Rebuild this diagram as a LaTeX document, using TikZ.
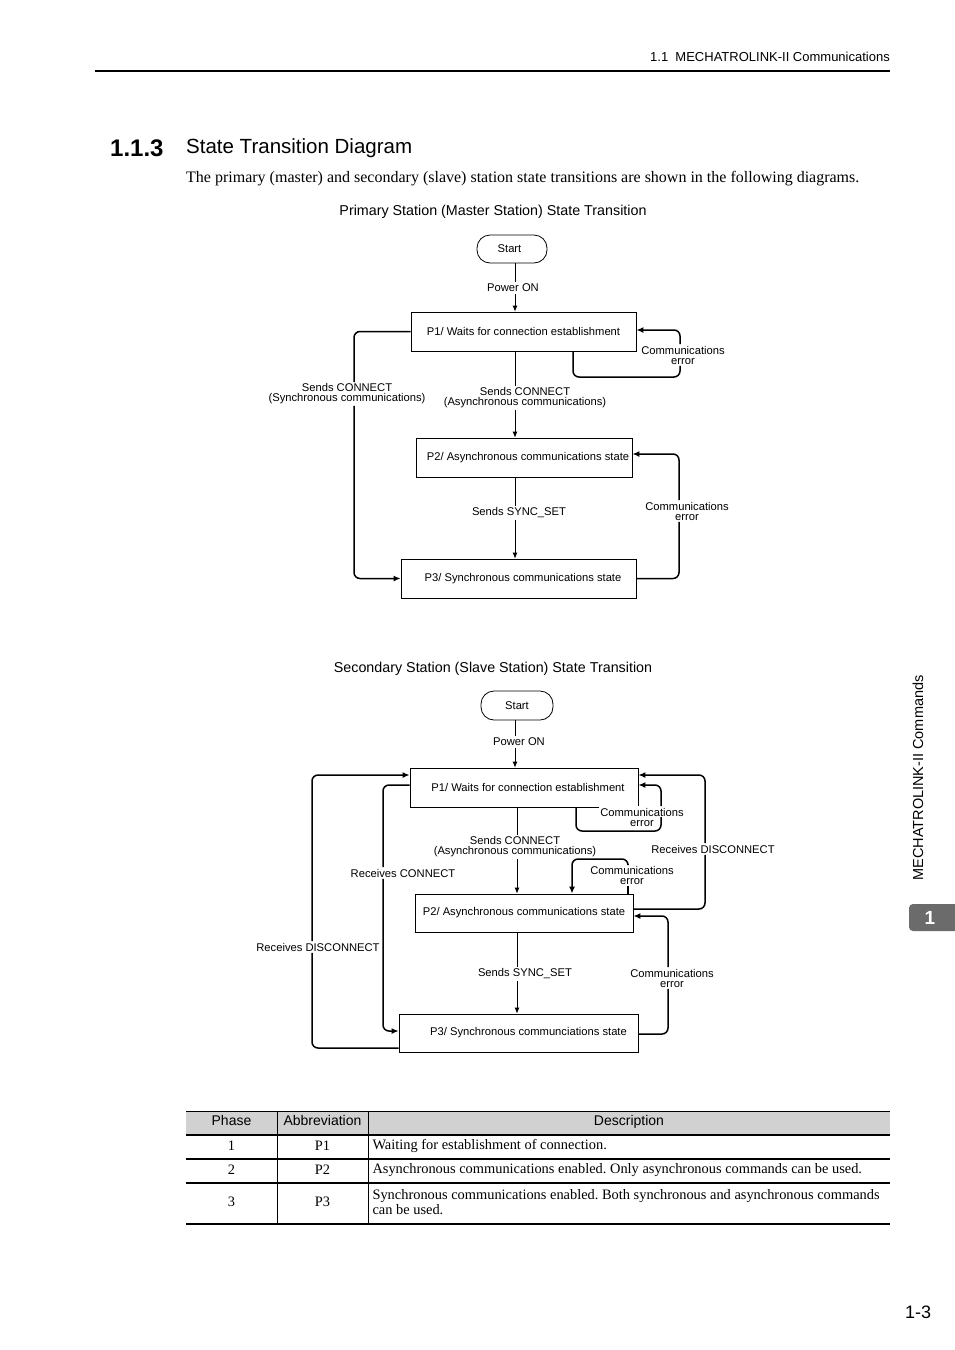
\documentclass[tikz,border=0pt]{standalone}
\usepackage{fontspec}
\setmainfont{Liberation Serif}
\setsansfont{Liberation Sans}
\usetikzlibrary{arrows.meta}
\definecolor{tabgray}{gray}{0.82}
\definecolor{tabdark}{gray}{0.42}
\frenchspacing
\tikzset{
  statebox/.style={draw, line width=0.8pt, inner sep=0pt, font=\sffamily\fontsize{11.2}{12}\selectfont},
  startbox/.style={draw, line width=0.8pt, rounded corners=13pt, inner sep=0pt, font=\sffamily\fontsize{11.2}{12}\selectfont},
  lbl/.style={fill=white, inner sep=1.5pt, align=center, font=\sffamily\fontsize{11.2}{10}\selectfont},
  thinline/.style={line width=0.8pt},
  thinarr/.style={line width=0.8pt, -{Latex[length=6pt,width=5pt]}},
  looparr/.style={line width=1.5pt, rounded corners=6pt, -{Latex[length=7pt,width=6pt]}},
  loopline/.style={line width=1.5pt, rounded corners=6pt},
  rowline/.style={line width=1.1pt},
  th/.style={font=\sffamily\fontsize{14}{16}\selectfont, text height=10pt, text depth=3pt},
  td/.style={font=\fontsize{14.4}{15.5}\selectfont, align=left},
}
\begin{document}
\begin{tikzpicture}[x=1pt, y=-1pt]
      \useasboundingbox (0,0) rectangle (954,1350);
      % Draw the page header
      \node[anchor=east, inner sep=0pt, font=\sffamily\fontsize{13}{14}\selectfont] (hdr) at (890,57) {1.1\ \ MECHATROLINK-II Communications};
      \draw[line width=2.5pt] (95,71) -- (890,71);
      \node[anchor=west, inner sep=0pt, font=\sffamily\bfseries\fontsize{24}{26}\selectfont] (secno) at (110,148) {1.1.3};
      \node[anchor=west, inner sep=0pt, font=\sffamily\fontsize{20.5}{22}\selectfont] (sectitle) at (186,148) {State Transition Diagram};
      \node[anchor=west, inner sep=0pt, font=\fontsize{16}{18}\selectfont] (intro) at (186,179) {The primary (master) and secondary (slave) station state transitions are shown in the following diagrams.};
      % Draw the primary station diagram
      \node[font=\sffamily\fontsize{14.3}{16}\selectfont] (cap1) at (493,212) {Primary Station (Master Station) State Transition};
      \node[startbox, minimum width=70pt, minimum height=28pt] (s1) at (512,249) {\hspace*{-5pt}Start};
      \node[statebox, minimum width=225pt, minimum height=39pt] (p1) at (523.5,331.5) {P1/ Waits for connection establishment};
      \node[statebox, minimum width=216pt, minimum height=39pt] (p2) at (524,457.5) {\hspace*{8pt}P2/ Asynchronous communications state};
      \node[statebox, minimum width=235pt, minimum height=39pt] (p3) at (518.5,578.5) {\hspace*{9pt}P3/ Synchronous communications state};
      \node[lbl] (pon1) at (513,288) {Power ON};
      \node[lbl] (err11) at (683,355) {Communications\\error};
      \node[lbl] (con1) at (347,394) {Sends CONNECT\\(Synchronous communications)};
      \node[lbl] (acon1) at (525,398) {Sends CONNECT\\(Asynchronous communications)};
      \node[lbl] (sync1) at (519,513) {Sends SYNC\_SET};
      \node[lbl] (err12) at (687,511) {Communications\\error};
      \coordinate (a1) at ([xshift=3pt]s1.south);
      \coordinate (b1) at ([xshift=-8.5pt]p1.south);
      \coordinate (c1) at ([xshift=-9pt]p2.south);
      \coordinate (e1) at (680,377);
      \coordinate (l1) at (354,500);
      \coordinate (r1) at (679,500);
        \draw[thinline] (a1) -- (a1 |- pon1.north);
        \draw[thinarr] (a1 |- pon1.south) -- (a1 |- p1.north);
        \draw[loopline] ([xshift=49.5pt]p1.south) |- (e1) -- (e1 |- err11.south);
        \draw[looparr] (e1 |- err11.north) |- ([yshift=1.5pt]p1.east);
        \draw[loopline] (p1.west) -| (l1 |- con1.north);
        \draw[looparr] (l1 |- con1.south) |- (p3.west);
        \draw[thinline] (b1) -- (b1 |- acon1.north);
        \draw[thinarr] (b1 |- acon1.south) -- (b1 |- p2.north);
        \draw[thinline] (c1) -- (c1 |- sync1.north);
        \draw[thinarr] (c1 |- sync1.south) -- (c1 |- p3.north);
        \draw[loopline] (p3.east) -| (r1 |- err12.south);
        \draw[looparr] (r1 |- err12.north) |- ([yshift=3.5pt]p2.east);
      % Draw the secondary station diagram
      \node[font=\sffamily\fontsize{14.3}{16}\selectfont] (cap2) at (493,669) {Secondary Station (Slave Station) State Transition};
      \node[startbox, minimum width=72pt, minimum height=29pt] (s2) at (517,705.5) {Start};
      \node[statebox, minimum width=228pt, minimum height=39pt] (q1) at (524,787.5) {\hspace*{8pt}P1/ Waits for connection establishment};
      \node[statebox, minimum width=218pt, minimum height=38pt] (q2) at (524,913) {P2/ Asynchronous communications state};
      \node[statebox, minimum width=239pt, minimum height=38pt] (q3) at (518.5,1033) {\hspace*{20pt}P3/ Synchronous communciations state};
      \node[lbl] (pon2) at (519,742) {Power ON};
      \node[lbl] (err21) at (642,817) {Communications\\error};
      \node[lbl] (dis21) at (713,849) {Receives DISCONNECT};
      \node[lbl] (acon2) at (515,847) {Sends CONNECT\\(Asynchronous communications)};
      \node[lbl] (err22) at (632,875) {Communications\\error};
      \node[lbl] (rcon2) at (403,873) {Receives CONNECT};
      \node[lbl] (dis22) at (318,947) {Receives DISCONNECT};
      \node[lbl] (sync2) at (525,974) {Sends SYNC\_SET};
      \node[lbl] (err23) at (672,978) {Communications\\error};
      \coordinate (a2) at ([xshift=-2pt]s2.south);
      \coordinate (b2) at ([xshift=-7pt]q1.south);
      \coordinate (c2) at ([xshift=-7pt]q2.south);
      \coordinate (e2) at (661,831);
      \coordinate (e3) at (600,859);
      \coordinate (r2) at (705,840);
      \coordinate (r3) at (668,980);
      \coordinate (l2) at (383,900);
      \coordinate (l3) at (312,900);
        \draw[thinline] (a2) -- (a2 |- pon2.north);
        \draw[thinarr] (a2 |- pon2.south) -- (a2 |- q1.north);
        \draw[loopline] ([xshift=52pt]q1.south) |- (e2) -- (e2 |- err21.center);
        \draw[looparr] (e2 |- err21.north) |- ([yshift=2.5pt]q1.east);
        \draw[loopline] ([yshift=4pt]q2.east) -| (r2 |- dis21.south);
        \draw[looparr] (r2 |- dis21.north) |- ([yshift=12.5pt]q1.east);
        \draw[thinline] (b2) -- (b2 |- acon2.north);
        \draw[thinarr] (b2 |- acon2.south) -- (b2 |- q2.north);
        \draw[loopline] ([xshift=104pt]q2.north) -- ([xshift=104pt]q2.north |- err22.south);
        \draw[looparr] ([xshift=104pt]q2.north |- err22.north) |- (e3) -| ([xshift=48pt]q2.north);
        \draw[thinline] (c2) -- (c2 |- sync2.north);
        \draw[thinarr] (c2 |- sync2.south) -- (c2 |- q3.north);
        \draw[loopline] ([yshift=-1pt]q3.east) -| (r3 |- err23.south);
        \draw[looparr] (r3 |- err23.north) |- ([yshift=-3pt]q2.east);
        \draw[loopline] ([yshift=2.5pt]q1.west) -| (l2 |- rcon2.north);
        \draw[looparr] (l2 |- rcon2.south) |- ([yshift=2pt]q3.west);
        \draw[loopline] ([yshift=-15pt]q3.west) -| (l3 |- dis22.south);
        \draw[looparr] (l3 |- dis22.north) |- ([yshift=12.5pt]q1.west);
      % Draw the phase table
      \fill[tabgray] (186,1111) rectangle (890,1135);
      \draw[line width=0.5pt] (186,1111) -- (890,1111);
      \draw[rowline] (186,1135) -- (890,1135);
      \draw[rowline] (186,1159) -- (890,1159);
      \draw[rowline] (186,1183) -- (890,1183);
      \draw[line width=1.4pt] (186,1224) -- (890,1224);
      \draw[line width=0.6pt] (277,1111) -- (277,1224);
      \draw[line width=0.6pt] (368,1111) -- (368,1224);
      \node[th] (hph) at (231.5,1122) {Phase};
      \node[th] (hab) at (322.5,1122) {Abbreviation};
      \node[th] (hde) at (629,1122) {Description};
        \node[td] (ph1) at (231.5,1146) {1};
        \node[td] (ab1) at (322.5,1146) {P1};
        \node[td, anchor=west] (de1) at (369,1146) {Waiting for establishment of connection.};
        \node[td] (ph2) at (231.5,1170) {2};
        \node[td] (ab2) at (322.5,1170) {P2};
        \node[td, anchor=west] (de2) at (369,1170) {Asynchronous communications enabled. Only asynchronous commands can be used.};
        \node[td] (ph3) at (231.5,1202) {3};
        \node[td] (ab3) at (322.5,1202) {P3};
        \node[td, anchor=west] (de3) at (369,1202) {Synchronous communications enabled. Both synchronous and asynchronous commands\\can be used.};
      % Draw the side tab and page number
      \node[rotate=90, font=\sffamily\fontsize{14.5}{16}\selectfont] (side) at (918,778) {MECHATROLINK-II Commands};
      \fill[tabdark, rounded corners=4pt] (909,904) rectangle (964,931);
      \node[text=white, font=\sffamily\bfseries\fontsize{19}{20}\selectfont] (tabno) at (930,917.5) {1};
      \node[font=\sffamily\fontsize{18}{20}\selectfont] (pgno) at (918,1312) {1-3};
    \end{tikzpicture}
\end{document}
